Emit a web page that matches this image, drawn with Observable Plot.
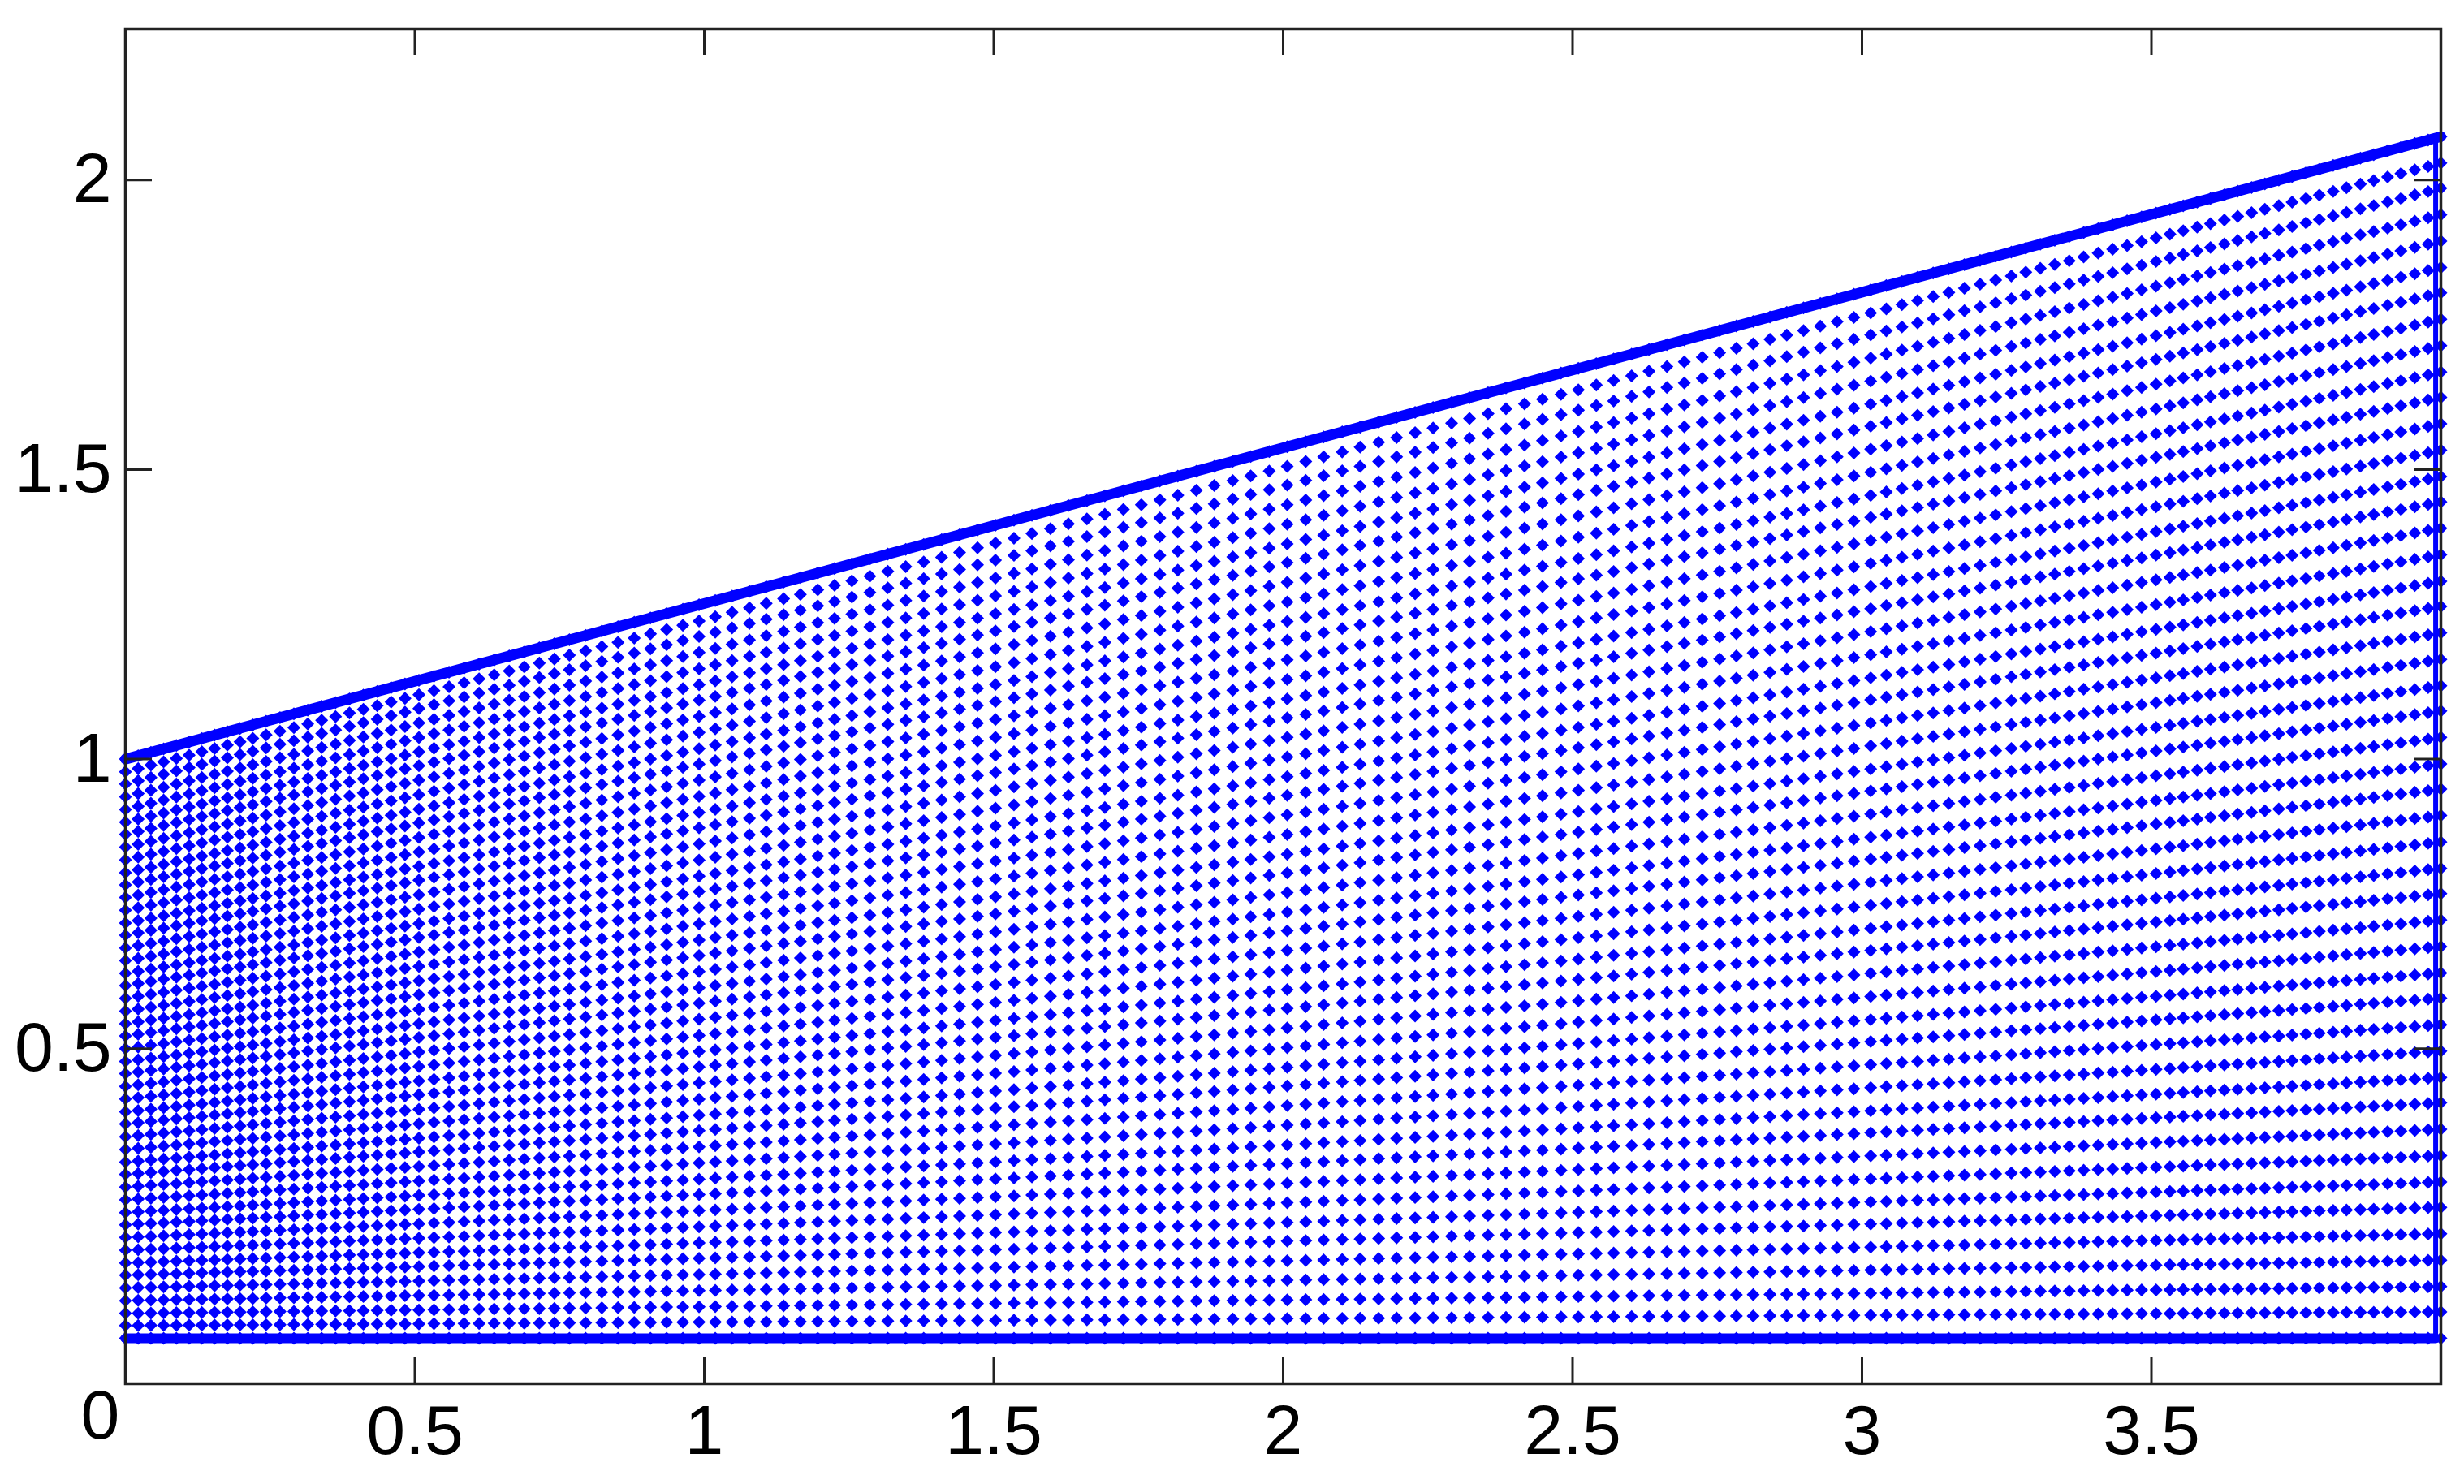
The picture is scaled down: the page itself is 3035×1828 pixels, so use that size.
<!DOCTYPE html>
<html>
<head>
<meta charset="utf-8">
<script src="https://cdn.jsdelivr.net/npm/d3@7"></script>
<script src="https://cdn.jsdelivr.net/npm/@observablehq/plot@0.6"></script>
<style>
  html, body { margin: 0; padding: 0; background: #ffffff; }
  #chart { width: 3035px; height: 1828px; }
</style>
</head>
<body>
<div id="chart"></div>
<script>
// Column positions (x)
const columnX = [0, 0.022, 0.044, 0.066, 0.088, 0.11, 0.132, 0.154, 0.176, 0.198, 0.22, 0.243,
  0.267, 0.291, 0.315, 0.339, 0.363, 0.387, 0.411, 0.435, 0.459, 0.483, 0.507,
  0.533, 0.559, 0.585, 0.611, 0.637, 0.663, 0.689, 0.715, 0.741, 0.767,
  0.795, 0.823, 0.851, 0.879, 0.907, 0.935, 0.963, 0.991, 1.019,
  1.048, 1.078, 1.107, 1.137, 1.166, 1.196, 1.225, 1.255,
  1.286, 1.317, 1.348, 1.379, 1.41, 1.441, 1.472, 1.503,
  1.535, 1.566, 1.598, 1.629, 1.661, 1.692, 1.724, 1.755, 1.787, 1.818, 1.85, 1.881, 1.913, 1.944, 1.976,
  2.007, 2.039, 2.07, 2.102, 2.133, 2.165, 2.196, 2.228, 2.259, 2.291, 2.322, 2.354, 2.385, 2.417, 2.448, 2.48,
  2.51, 2.541, 2.571, 2.602, 2.632, 2.663, 2.693, 2.724, 2.754,
  2.783, 2.812, 2.841, 2.87, 2.899, 2.928, 2.957, 2.986, 3.015,
  3.042, 3.069, 3.096, 3.123, 3.15, 3.177, 3.204, 3.231, 3.258,
  3.283, 3.308, 3.333, 3.358, 3.383, 3.408, 3.433, 3.458, 3.483, 3.508,
  3.532, 3.555, 3.579, 3.602, 3.626, 3.649, 3.673, 3.696, 3.72, 3.743, 3.767, 3.79, 3.814, 3.837,
  3.861, 3.884, 3.908, 3.931, 3.955, 3.978, 4.0];

// Relative height of each row between bottom (0) and upper boundary (1)
const rowFraction = [0, 0.022, 0.043, 0.065, 0.087, 0.109, 0.130, 0.152, 0.174, 0.196, 0.217, 0.239,
  0.261, 0.283, 0.304, 0.326, 0.348, 0.370, 0.391, 0.413, 0.435, 0.457, 0.478, 0.500, 0.522, 0.543,
  0.565, 0.587, 0.609, 0.630, 0.652, 0.674, 0.696, 0.717, 0.739, 0.761, 0.783, 0.804, 0.826, 0.848,
  0.870, 0.891, 0.913, 0.935, 0.957, 0.978, 1];

// Upper boundary: x and y at its two ends
const boundaryX = [0, 4];
const boundaryTop = [1, 2.075];
const rightEdgeX = 3.991;

// Tick values
const xTicks = [0.5, 1, 1.5, 2, 2.5, 3, 3.5];
const yTicks = [0.5, 1, 1.5, 2];
const cornerLabel = "0";

// Build the table of points from the arrays above
const topAt = d3.scaleLinear().domain(boundaryX).range(boundaryTop);
const points = [];
for (const x of columnX) {
  for (const f of rowFraction) points.push({x, y: f * topAt(x)});
}
const topLine = boundaryX.map((x, i) => ({x, y: boundaryTop[i]}));
const bottomLine = [{x: 0, y: 0}, {x: rightEdgeX, y: 0}];
const rightLine = [{x: rightEdgeX, y: 0}, {x: rightEdgeX, y: topAt(rightEdgeX)}];

const W = 3035, H = 1828;
const mL = 154, mR = 29, mT = 35, mB = 124;
const frameW = W - mL - mR, frameH = H - mT - mB;
const tick = 33;
const blue = "#0000ff";
const axisColor = "#222222";

const chart = Plot.plot({
  width: W,
  height: H,
  marginLeft: mL,
  marginRight: mR,
  marginTop: mT,
  marginBottom: mB,
  style: {fontFamily: "Liberation Sans, Arial, sans-serif", fontSize: "86px", background: "#ffffff", color: "#000000"},
  x: {domain: [0, 4]},
  y: {domain: [-0.0785, 2.261]},
  marks: [
    Plot.dot(points, {x: "x", y: "y", symbol: "diamond2", r: 7.2, fill: blue, stroke: "none"}),
    Plot.line(bottomLine, {x: "x", y: "y", stroke: blue, strokeWidth: 12}),
    Plot.line(topLine, {x: "x", y: "y", stroke: blue, strokeWidth: 13}),
    Plot.line(rightLine, {x: "x", y: "y", stroke: blue, strokeWidth: 6}),
    // inward tick marks on all four sides
    Plot.tickX(xTicks, {x: d => d, stroke: axisColor, strokeWidth: 3, insetTop: frameH - tick}),
    Plot.tickX(xTicks, {x: d => d, stroke: axisColor, strokeWidth: 3, insetBottom: frameH - tick}),
    Plot.tickY(yTicks, {y: d => d, stroke: axisColor, strokeWidth: 3, insetRight: frameW - tick}),
    Plot.tickY(yTicks, {y: d => d, stroke: axisColor, strokeWidth: 3, insetLeft: frameW - tick}),
    Plot.frame({stroke: axisColor, strokeWidth: 3.5}),
    Plot.axisX({ticks: xTicks, tickSize: 0, tickPadding: 25, tickFormat: d => String(d), fontSize: 86, label: null}),
    Plot.axisY({ticks: yTicks, tickSize: 0, tickPadding: 17, tickFormat: d => String(d), fontSize: 86, label: null}),
    Plot.text([cornerLabel], {x: 0, y: -0.0785, text: d => d, dx: -31, dy: 40, fontSize: 86, lineAnchor: "middle", fill: "#000000"})
  ]
});
document.getElementById("chart").appendChild(chart);
</script>
</body>
</html>
